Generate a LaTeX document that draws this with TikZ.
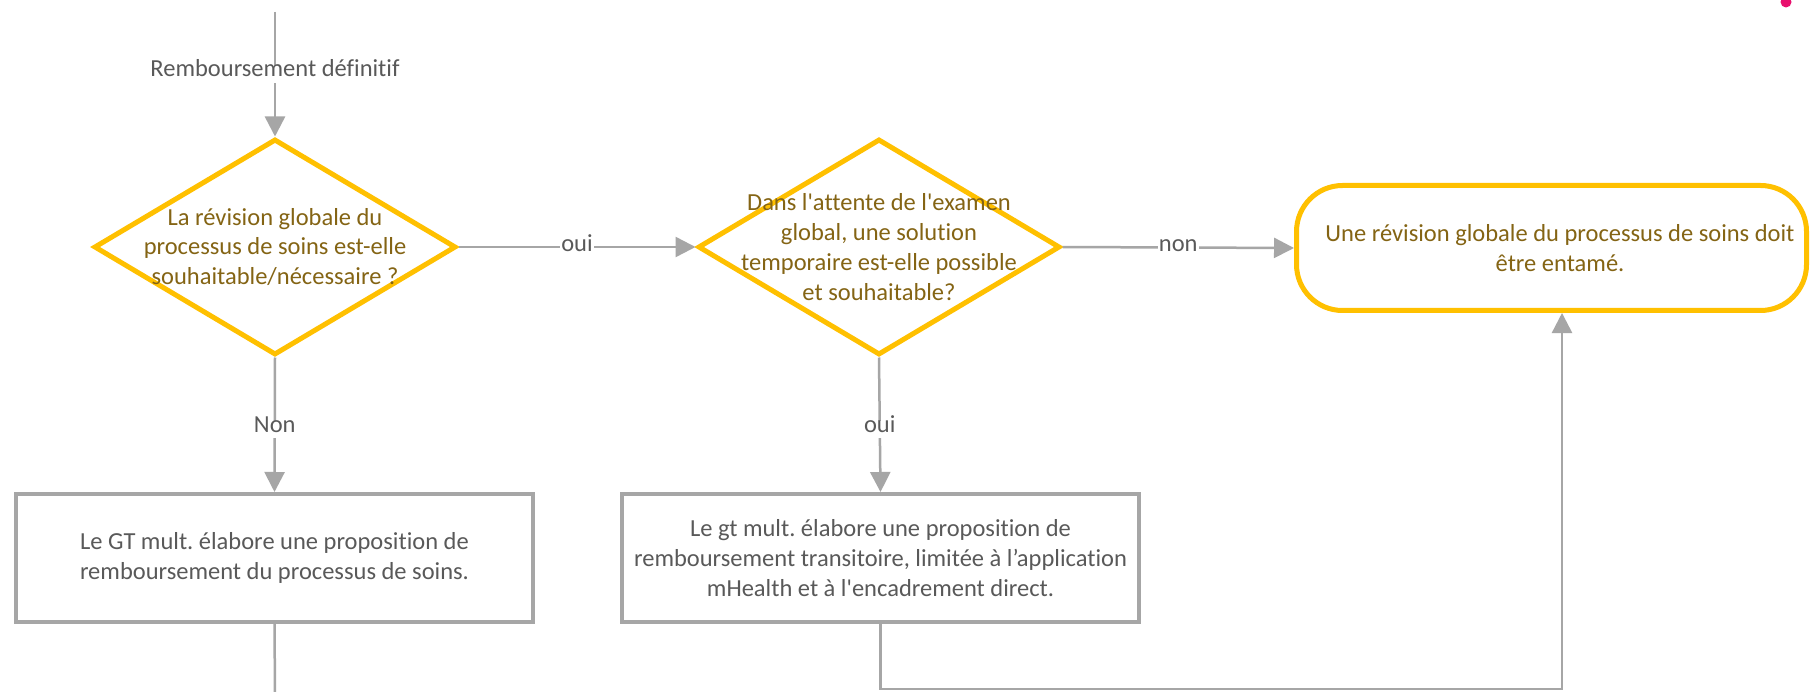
\documentclass[tikz,border=0pt]{standalone}
\usepackage{fontspec}
% Carlito without the TeX quote mapping and without common ligatures
\newfontfamily\flowfont{Carlito}[Ligatures=NoCommon]
\usetikzlibrary{shapes.geometric,arrows.meta}

\definecolor{gold}{HTML}{FFC000}
\definecolor{golddark}{HTML}{846414}
\definecolor{linegray}{HTML}{A6A6A6}
\definecolor{textgray}{HTML}{595959}
\definecolor{pinkmark}{HTML}{E8106E}

\tikzset{
  basefont/.style={font=\flowfont\frenchspacing\fontsize{24.5}{29.8}\selectfont},
  decision/.style={shape=diamond, draw=gold, line width=5pt, inner sep=0pt,
    minimum width=362pt, minimum height=216pt},
  decisiontext/.style={basefont, text=golddark, align=center, inner sep=0pt},
  terminal/.style={draw=gold, line width=5pt, rounded corners=46pt, inner sep=0pt,
    minimum width=510pt, minimum height=125pt, basefont, text=golddark, align=center},
  process/.style={draw=linegray, line width=4pt, inner sep=0pt,
    minimum width=517pt, minimum height=128pt, basefont, text=textgray, align=center},
  conn/.style={draw=linegray, line width=2.5pt},
  flow/.style={conn, -{Triangle[length=20pt,width=20pt]}},
  lbl/.style={basefont, text=textgray, fill=white, inner xsep=1pt, inner ysep=3.5pt,
    text height=0.75em, text depth=0.25em}
}

\begin{document}
\begin{tikzpicture}[x=1pt,y=-1pt]
  \useasboundingbox (0,0) rectangle (1811,692);
  \fill[white] (0,0) rectangle (1811,692);

  % small mark in the top right corner
  \fill[pinkmark] (1786,2) circle (5.5);

  % decisions
  \node[decision] (d1) at (275,247) {};
  \node[decisiontext] (d1t) at (275,247)
    {La révision globale du\\processus de soins est-elle\\souhaitable/nécessaire ?};
  \node[decision] (d2) at (879,247) {};
  \node[decisiontext] (d2t) at (879,247)
    {Dans l'attente de l'examen\\global, une solution\\temporaire est-elle possible\\et souhaitable?};

  % end point
  \node[terminal] (e) at (1551.5,248)
    {\hspace*{17pt}Une révision globale du processus de soins doit\\\hspace*{17pt}être entamé.};

  % actions
  \node[process] (b1) at (274.5,558)
    {Le GT mult. élabore une proposition de\\remboursement du processus de soins.};
  \node[process] (b2) at (880.5,558)
    {Le gt mult. élabore une proposition de\\remboursement transitoire, limitée à l’application\\mHealth et à l'encadrement direct.};

  % free ends of the connectors
  \coordinate (start) at (275,12);
  \coordinate (b1end) at (275,694);
  \coordinate (turn) at (1562,689);

  % connectors
  \draw[flow] (start) -- node[lbl, pos=0.45, yshift=-6pt] {Remboursement définitif} (d1.north);
  \draw[flow] (d1.east) -- node[lbl, yshift=-2pt] {oui} (d2.west);
  \draw[flow] (d2.east) -- node[lbl, yshift=-2pt] {non} (e.west);
  \draw[flow] (d1.south) -- node[lbl, yshift=-5pt] {Non} (b1.north);
  \draw[flow] (d2.south) -- node[lbl, yshift=-5pt] {oui} (b2.north);
  \draw[conn] (b1.south) -- (b1end);
  \draw[flow] (b2.south) |- (turn) -- (turn |- e.south);
\end{tikzpicture}
\end{document}
